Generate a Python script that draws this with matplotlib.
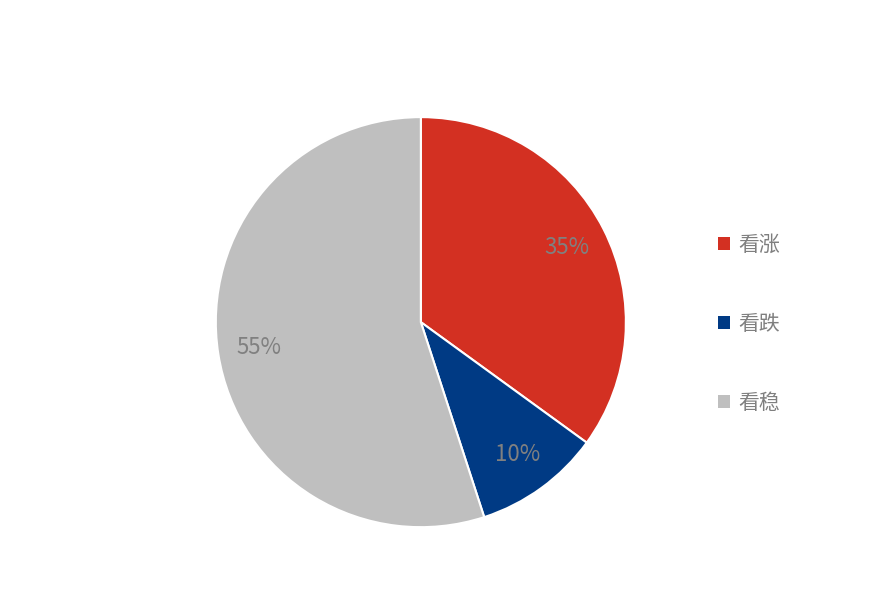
import matplotlib.pyplot as plt
from matplotlib.patches import Patch

plt.rcParams['font.family'] = ['Noto Sans CJK SC', 'DejaVu Sans']

labels = ['看涨', '看跌', '看稳']
values = [35, 10, 55]
colors = ['#D33022', '#003A84', '#BFBFBF']

fig = plt.figure(figsize=(8.86, 5.90), dpi=100)
ax = fig.add_axes([0.475 - 0.2314, 0.454 - 0.3475, 0.4628, 0.695])
wedges, texts, autotexts = ax.pie(
    values, colors=colors, startangle=90, counterclock=False,
    autopct='%d%%', pctdistance=0.8,
    wedgeprops=dict(edgecolor='white', linewidth=1.5),
    textprops=dict(color='#808080', fontsize=16))
ax.set_aspect('equal')
ax.set_xlim(-1.0, 1.0)
ax.set_ylim(-1.0, 1.0)

handles = [Patch(facecolor=c, edgecolor='none') for c in colors]
fig.legend(handles, labels, loc='center left', bbox_to_anchor=(0.81, 0.451),
           frameon=False, fontsize=15, labelcolor='#7F7F7F',
           handlelength=0.6, handleheight=0.6, handletextpad=0.4,
           labelspacing=2.75, borderpad=0, borderaxespad=0)

fig.savefig('out.png', dpi=100)
